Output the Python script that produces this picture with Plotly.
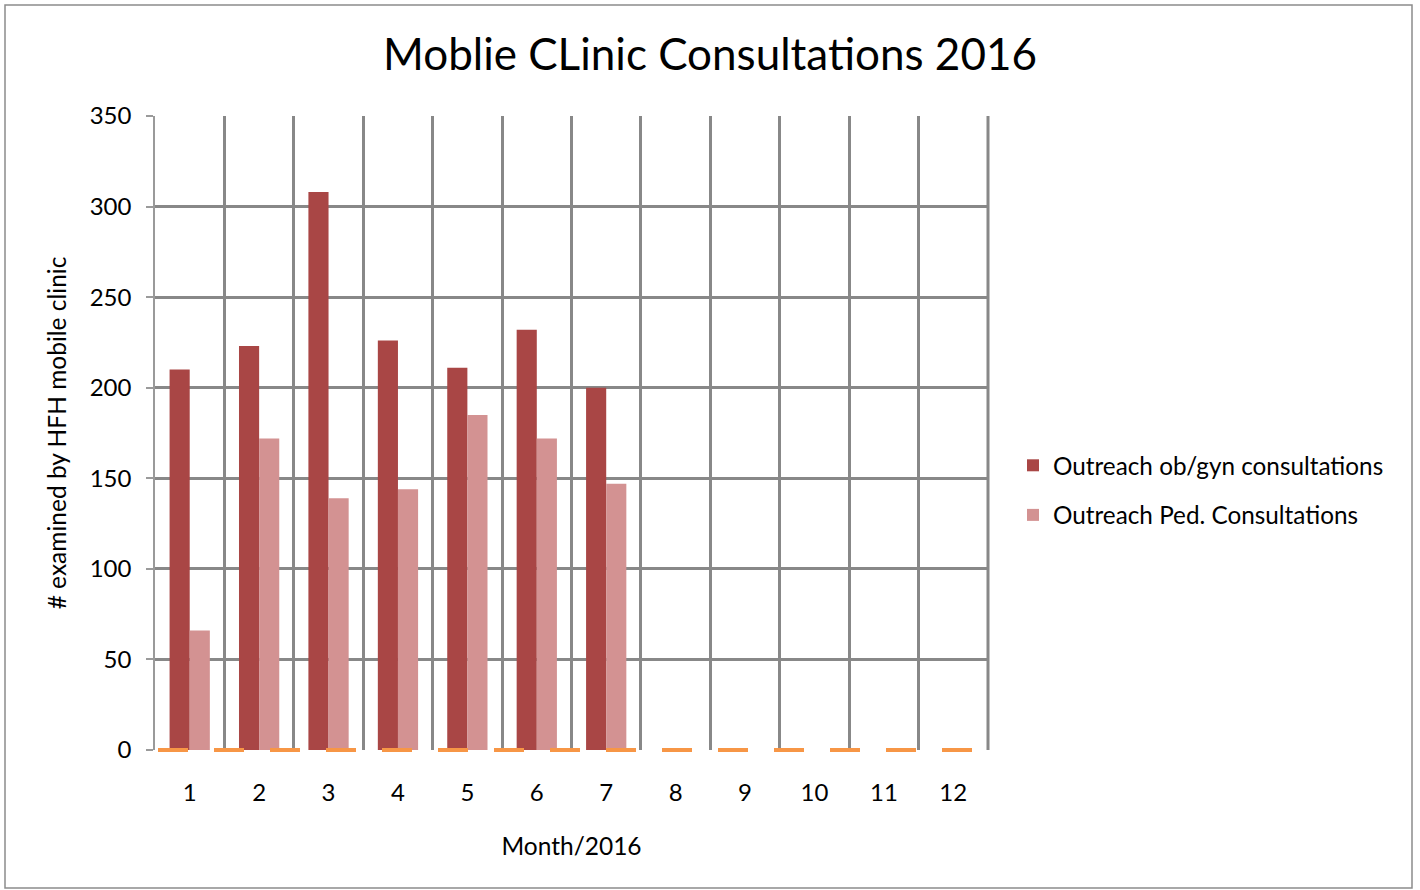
import plotly.graph_objects as go

months = [str(m) for m in range(1, 13)]
obgyn = [210, 223, 308, 226, 211, 232, 200, None, None, None, None, None]
ped = [66, 172, 139, 144, 185, 172, 147, None, None, None, None, None]
y_ticks = [0, 50, 100, 150, 200, 250, 300, 350]

title_text = "Moblie CLinic Consultations 2016"
series_names = ["Outreach ob/gyn consultations", "Outreach Ped. Consultations"]
x_title = "Month/2016"
y_title = "# examined by HFH mobile clinic"

FONT = "Lato"
W, H = 1420, 890
L, R, T, B = 155, 432, 116, 140
pw, ph = W - L - R, H - T - B

fig = go.Figure()
fig.add_trace(go.Bar(x=months, y=obgyn, name=series_names[0],
                     marker=dict(color="#A94645", line=dict(width=0)),
                     legendgroup="a"))
fig.add_trace(go.Bar(x=months, y=ped, name=series_names[1],
                     marker=dict(color="#D39292", line=dict(width=0)),
                     legendgroup="b"))

def px_x(p):
    return (p - L) / pw

def px_y(p):
    return 1 - (p - T) / ph

fig.update_layout(
    width=W, height=H,
    margin=dict(l=L, r=R, t=T, b=B, pad=0),
    paper_bgcolor="white", plot_bgcolor="white",
    font=dict(family=FONT, color="#000000", size=24.5),
    title=dict(text=title_text, x=0.5, xref="container", xanchor="center",
               y=1 - 55 / H, yanchor="middle",
               font=dict(family=FONT, size=44, color="#000000")),
    barmode="group", bargap=0.42, bargroupgap=0,
    legend=dict(x=px_x(1013), y=px_y(443), xanchor="left", yanchor="top",
                font=dict(family=FONT, size=24.3), traceorder="grouped",
                tracegroupgap=15, bgcolor="rgba(0,0,0,0)"),
    xaxis=dict(type="category", tickson="boundaries", showgrid=True,
               gridcolor="#888888", gridwidth=3, ticks="", showline=False,
               zeroline=False, ticklabelstandoff=26,
               tickfont=dict(family=FONT, size=24),
               title=dict(text=x_title, standoff=32, font=dict(family=FONT, size=24.5))),
    yaxis=dict(range=[0, 350], tickvals=y_ticks, showgrid=True,
               gridcolor="#888888", gridwidth=2.5, zeroline=False,
               showline=True, linecolor="#9a9a9a", linewidth=1.5,
               ticks="outside", ticklen=7, tickcolor="#9a9a9a", tickwidth=1.5,
               ticklabelstandoff=10,
               tickfont=dict(family=FONT, size=24),
               title=dict(text=y_title, standoff=16, font=dict(family=FONT, size=24.5))),
    shapes=[
        dict(type="line", xref="paper", yref="paper", x0=1, x1=1, y0=0, y1=1,
             line=dict(color="#888888", width=3), layer="above"),
        dict(type="line", xref="paper", yref="paper", x0=3 / pw, x1=1, y0=0, y1=0,
             line=dict(color="#F79646", width=4, dash="30px,26px"), layer="above"),
        dict(type="rect", xref="paper", yref="paper",
             x0=px_x(5), x1=px_x(1412), y0=px_y(888), y1=px_y(5),
             line=dict(color="#8c8c8c", width=1.5), fillcolor="rgba(0,0,0,0)",
             layer="below"),
    ],
)

fig.write_html("out.html", config={"displayModeBar": False},
               post_script="document.body.style.margin='0';")
